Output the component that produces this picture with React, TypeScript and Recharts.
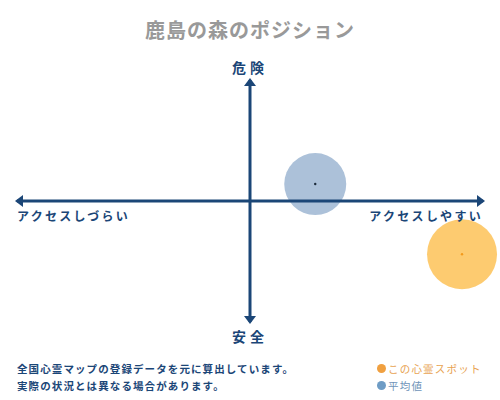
import React from 'react';
import { ReferenceLine, Scatter, ScatterChart, XAxis, YAxis } from 'recharts';

// position map: x = accessibility, y = danger
const spotPoint = [{ x: 9.1, y: -4.4 }];
const averagePoint = [{ x: 2.8, y: 1.4 }];
const DOMAIN: [number, number] = [-10, 10];

const AXIS_COLOR = '#1b4677';
const FONT = '"Noto Sans CJK JP", sans-serif';
const MARGIN = { top: 80, right: 17, bottom: 78, left: 17 };

const bubble = (fill: string, dot: string, r: number) => (props: any) => (
  <g>
    <circle cx={props.cx} cy={props.cy} r={r} fill={fill} />
    <circle cx={props.cx} cy={props.cy} r={1.2} fill={dot} />
  </g>
);

const arrowLine = (props: any) => {
  const { x1, y1, x2, y2 } = props;
  const horizontal = Math.abs(y1 - y2) < 1;
  const s = 6;
  return (
    <g>
      <line x1={x1} y1={y1} x2={x2} y2={y2} stroke={AXIS_COLOR} strokeWidth={3} />
      {horizontal ? (
        <>
          <polygon points={`${x1 - 2},${y1} ${x1 + s},${y1 - s} ${x1 + s},${y1 + s}`} fill={AXIS_COLOR} />
          <polygon points={`${x2 + 2},${y2} ${x2 - s},${y2 - s} ${x2 - s},${y2 + s}`} fill={AXIS_COLOR} />
        </>
      ) : (
        <>
          <polygon points={`${x1},${Math.min(y1, y2) - 2} ${x1 - s},${Math.min(y1, y2) + s} ${x1 + s},${Math.min(y1, y2) + s}`} fill={AXIS_COLOR} />
          <polygon points={`${x1},${Math.max(y1, y2) + 2} ${x1 - s},${Math.max(y1, y2) - s} ${x1 + s},${Math.max(y1, y2) - s}`} fill={AXIS_COLOR} />
        </>
      )}
    </g>
  );
};

const text = (style: React.CSSProperties, content: React.ReactNode) => (
  <div style={{ position: 'absolute', fontFamily: FONT, whiteSpace: 'nowrap', ...style }}>{content}</div>
);

const layer: React.CSSProperties = { position: 'absolute', left: 0, top: 0 };

export default function App() {
  return (
    <div style={{ position: 'absolute', left: 0, top: 0, width: 500, height: 400, background: '#fff' }}>
      {text({ left: 0, width: 500, top: 15, textAlign: 'center', fontSize: 20, color: '#999', fontWeight: 700, letterSpacing: 1 }, '鹿島の森のポジション')}
      {/* bubbles underneath */}
      <div style={layer}>
        <ScatterChart width={500} height={400} margin={MARGIN}>
          <XAxis type="number" dataKey="x" domain={DOMAIN} hide />
          <YAxis type="number" dataKey="y" domain={DOMAIN} hide />
          <Scatter data={averagePoint} shape={bubble('rgb(172,193,217)', '#1b2a3a', 31)} isAnimationActive={false} />
          <Scatter data={spotPoint} shape={bubble('rgb(253,203,112)', '#f39a1c', 35)} isAnimationActive={false} />
        </ScatterChart>
      </div>
      {/* same scales, axes drawn on top */}
      <div style={layer}>
        <ScatterChart width={500} height={400} margin={MARGIN}>
          <XAxis type="number" dataKey="x" domain={DOMAIN} hide />
          <YAxis type="number" dataKey="y" domain={DOMAIN} hide />
          <Scatter data={averagePoint} shape={() => <g />} isAnimationActive={false} />
          <ReferenceLine y={0} shape={arrowLine} />
          <ReferenceLine x={0} shape={arrowLine} />
        </ScatterChart>
      </div>
      {text({ left: 0, width: 500, top: 57, textAlign: 'center', fontSize: 14, fontWeight: 700, color: AXIS_COLOR, letterSpacing: 4 }, '危険')}
      {text({ left: 0, width: 500, top: 326, textAlign: 'center', fontSize: 14, fontWeight: 700, color: AXIS_COLOR, letterSpacing: 4 }, '安全')}
      {text({ left: 17, top: 207, fontSize: 12, fontWeight: 700, color: AXIS_COLOR, letterSpacing: 2.3 }, 'アクセスしづらい')}
      {text({ right: 17, top: 207, fontSize: 12, fontWeight: 700, color: AXIS_COLOR, letterSpacing: 2.3 }, 'アクセスしやすい')}
      {text({ left: 17, top: 360, fontSize: 10.5, fontWeight: 700, color: AXIS_COLOR, letterSpacing: 1.1, lineHeight: '17px' }, (
        <>
          全国心霊マップの登録データを元に算出しています。
          <br />
          実際の状況とは異なる場合があります。
        </>
      ))}
      {text({ left: 377, top: 360, fontSize: 10.5, color: '#e8a352', letterSpacing: 1.2, lineHeight: '17px' }, (
        <>
          <span style={{ display: 'inline-block', width: 9, height: 9, borderRadius: '50%', background: '#f0a040', marginRight: 2 }} />
          この心霊スポット
        </>
      ))}
      {text({ left: 377, top: 377, fontSize: 10.5, color: '#6e93b8', letterSpacing: 1.2, lineHeight: '17px' }, (
        <>
          <span style={{ display: 'inline-block', width: 9, height: 9, borderRadius: '50%', background: '#6e9cc5', marginRight: 2 }} />
          平均値
        </>
      ))}
    </div>
  );
}
